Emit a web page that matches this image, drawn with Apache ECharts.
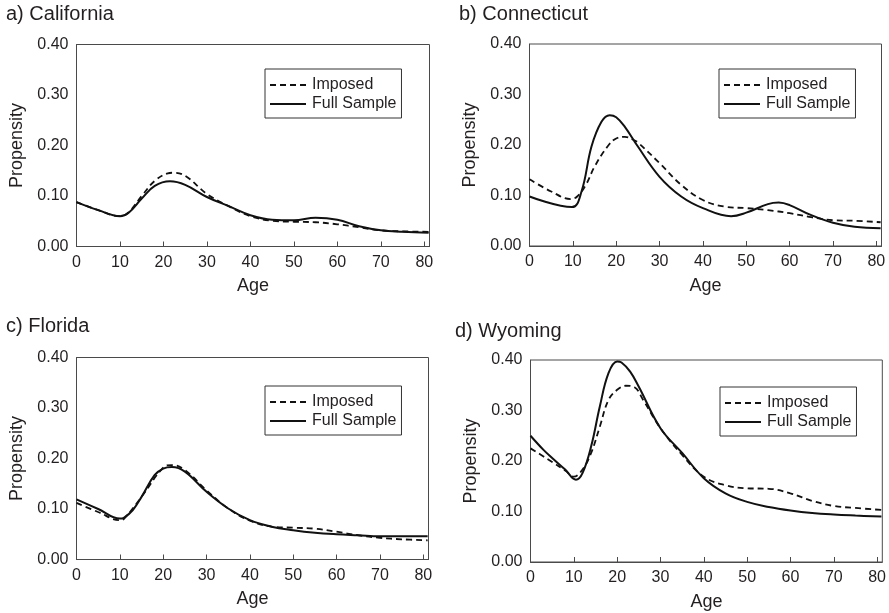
<!DOCTYPE html>
<html><head><meta charset="utf-8">
<script src="https://cdn.jsdelivr.net/npm/echarts@6/dist/echarts.min.js"></script>
<style>html,body{margin:0;padding:0;background:#fff}#c{width:889px;height:613px}</style>
</head><body><div id="c"></div>
<script>
// Panel titles
const panelTitles = ['a) California', 'b) Connecticut', 'c) Florida', 'd) Wyoming'];
const seriesNames = ['Imposed', 'Full Sample'];
const yTicks = [0, 0.1, 0.2, 0.3, 0.4];

// a) California
const caImpAge = [0, 5, 10, 12, 15, 18, 21, 22, 25, 30, 35, 40, 45, 50, 55, 60, 65, 70, 75, 81];
const caImpVal = [0.088, 0.072, 0.060, 0.068, 0.100, 0.130, 0.145, 0.146, 0.140, 0.104, 0.080, 0.060, 0.051, 0.049, 0.048, 0.044, 0.038, 0.032, 0.030, 0.029];
const caFullAge = [0, 5, 10, 12, 15, 18, 21.5, 25, 30, 35, 40, 45, 50, 55, 60, 65, 70, 75, 81];
const caFullVal = [0.088, 0.072, 0.060, 0.067, 0.095, 0.120, 0.129, 0.122, 0.098, 0.080, 0.062, 0.053, 0.052, 0.057, 0.053, 0.040, 0.032, 0.029, 0.027];

// b) Connecticut
const ctImpAge = [0, 5, 9.5, 11, 13, 15, 18, 20, 22, 24, 25, 30, 35, 40, 45, 50, 55, 60, 65, 70, 75, 81];
const ctImpVal = [0.132, 0.108, 0.093, 0.098, 0.121, 0.157, 0.197, 0.213, 0.216, 0.210, 0.205, 0.164, 0.121, 0.091, 0.078, 0.075, 0.071, 0.065, 0.057, 0.051, 0.050, 0.047];
const ctFullAge = [0, 9.8, 12, 14.3, 16.6, 18.5, 20, 22, 25, 30, 35, 40, 46.5, 50, 55, 57.5, 60, 65, 70, 75, 81];
const ctFullVal = [0.098, 0.077, 0.108, 0.197, 0.246, 0.259, 0.255, 0.236, 0.197, 0.137, 0.098, 0.075, 0.059, 0.066, 0.083, 0.086, 0.081, 0.061, 0.046, 0.038, 0.035];

// c) Florida
const flImpAge = [0, 5, 10, 11, 15, 20, 22, 25, 30, 35, 40, 45, 50, 55, 60, 65, 70, 75, 81];
const flImpVal = [0.112, 0.094, 0.078, 0.081, 0.124, 0.182, 0.187, 0.177, 0.137, 0.101, 0.077, 0.065, 0.063, 0.061, 0.055, 0.048, 0.043, 0.040, 0.038];
const flFullAge = [0, 5, 10, 11, 13, 15, 18, 20, 22, 25, 30, 35, 40, 45, 50, 55, 60, 65, 70, 81];
const flFullVal = [0.119, 0.100, 0.081, 0.083, 0.098, 0.124, 0.167, 0.180, 0.183, 0.174, 0.134, 0.101, 0.078, 0.065, 0.058, 0.053, 0.050, 0.048, 0.046, 0.046];

// d) Wyoming
const wyImpAge = [0, 3, 5, 8, 10, 12, 14, 16, 18, 20, 22, 24, 26, 30, 35, 40, 45, 50, 55, 60, 65, 70, 75, 81];
const wyImpVal = [0.225, 0.209, 0.198, 0.181, 0.169, 0.183, 0.216, 0.268, 0.321, 0.341, 0.349, 0.346, 0.321, 0.265, 0.212, 0.169, 0.152, 0.146, 0.145, 0.136, 0.121, 0.111, 0.107, 0.103];
const wyFullAge = [0, 3, 5, 8, 10.5, 12, 14, 16, 18, 20, 21, 23, 25, 30, 35, 40, 45, 50, 55, 60, 65, 70, 75, 81];
const wyFullVal = [0.250, 0.222, 0.206, 0.183, 0.163, 0.176, 0.229, 0.308, 0.374, 0.397, 0.395, 0.377, 0.347, 0.265, 0.216, 0.166, 0.136, 0.119, 0.109, 0.102, 0.097, 0.094, 0.092, 0.090];

const panels = [
  [caImpAge, caImpVal, caFullAge, caFullVal],
  [ctImpAge, ctImpVal, ctFullAge, ctFullVal],
  [flImpAge, flImpVal, flFullAge, flFullVal],
  [wyImpAge, wyImpVal, wyFullAge, wyFullVal]
];

const FONT = '"Liberation Sans", Arial, sans-serif';
const TXT = '#231f20';
const AX = '#4a4a4a';

const grids = [
  {left: 76.5, top: 44.5, width: 353, height: 202},
  {left: 529.5, top: 44, width: 352, height: 202},
  {left: 76.5, top: 357.5, width: 352, height: 202},
  {left: 530.5, top: 360, width: 352, height: 202}
];
const titlePos = [[6, 4], [459, 4], [6, 316], [455, 321]];
const legendPos = [[265, 69], [719, 69], [265, 386], [720, 387]];

const zip = (a, b) => a.map((x, i) => [x, b[i]]);

const option = {
  animation: false,
  color: ['#111', '#111'],
  textStyle: {fontFamily: FONT},
  title: panelTitles.map((t, i) => ({
    text: t, left: titlePos[i][0], top: titlePos[i][1], padding: 0,
    textStyle: {fontFamily: FONT, fontSize: 20, fontWeight: 'normal', color: TXT}
  })),
  grid: grids.map(g => Object.assign({show: true, borderColor: AX, borderWidth: 1, backgroundColor: 'transparent'}, g)),
  legend: legendPos.map(p => ({
    data: seriesNames, left: p[0], top: p[1], orient: 'vertical',
    itemWidth: 36, itemHeight: 12, itemGap: 1,
    padding: [7, 5, 5, 4], borderColor: '#333', borderWidth: 1,
    selectedMode: false,
    itemStyle: {opacity: 0},
    textStyle: {fontFamily: FONT, fontSize: 16, color: TXT, lineHeight: 18, padding: [0, 0, 0, 1]}
  })),
  xAxis: grids.map((g, i) => ({
    type: 'value', gridIndex: i, min: 0, max: 81.2, interval: 10,
    name: 'Age', nameLocation: 'middle', nameGap: 31,
    nameTextStyle: {fontFamily: FONT, fontSize: 18, color: TXT},
    axisLine: {show: true, lineStyle: {color: AX, width: 1}},
    axisTick: {show: true, inside: true, length: 5, lineStyle: {color: AX}},
    axisLabel: {fontFamily: FONT, fontSize: 16, color: TXT, margin: 8, showMaxLabel: false},
    splitLine: {show: false}
  })),
  yAxis: grids.map((g, i) => ({
    type: 'value', gridIndex: i, min: 0, max: 0.4, interval: 0.1,
    name: 'Propensity', nameLocation: 'middle', nameGap: 50,
    nameTextStyle: {fontFamily: FONT, fontSize: 18, color: TXT},
    axisLine: {show: true, lineStyle: {color: AX, width: 1}},
    axisTick: {show: false},
    axisLabel: {fontFamily: FONT, fontSize: 16, color: TXT, margin: 8, formatter: v => v.toFixed(2)},
    splitLine: {show: false}
  })),
  series: []
};

panels.forEach((p, i) => {
  option.series.push({
    name: 'Imposed', type: 'line', xAxisIndex: i, yAxisIndex: i,
    data: zip(p[0], p[1]), smooth: 0.4, symbol: 'none',
    itemStyle: {color: '#111'},
    lineStyle: {color: '#111', width: 1.8, type: [6, 4]}
  });
  option.series.push({
    name: 'Full Sample', type: 'line', xAxisIndex: i, yAxisIndex: i,
    data: zip(p[2], p[3]), smooth: 0.4, symbol: 'none',
    itemStyle: {color: '#111'},
    lineStyle: {color: '#111', width: 2, type: 'solid'}
  });
});

const chart = echarts.init(document.getElementById('c'), null, {renderer: 'canvas'});
chart.setOption(option);
</script>
</body></html>
